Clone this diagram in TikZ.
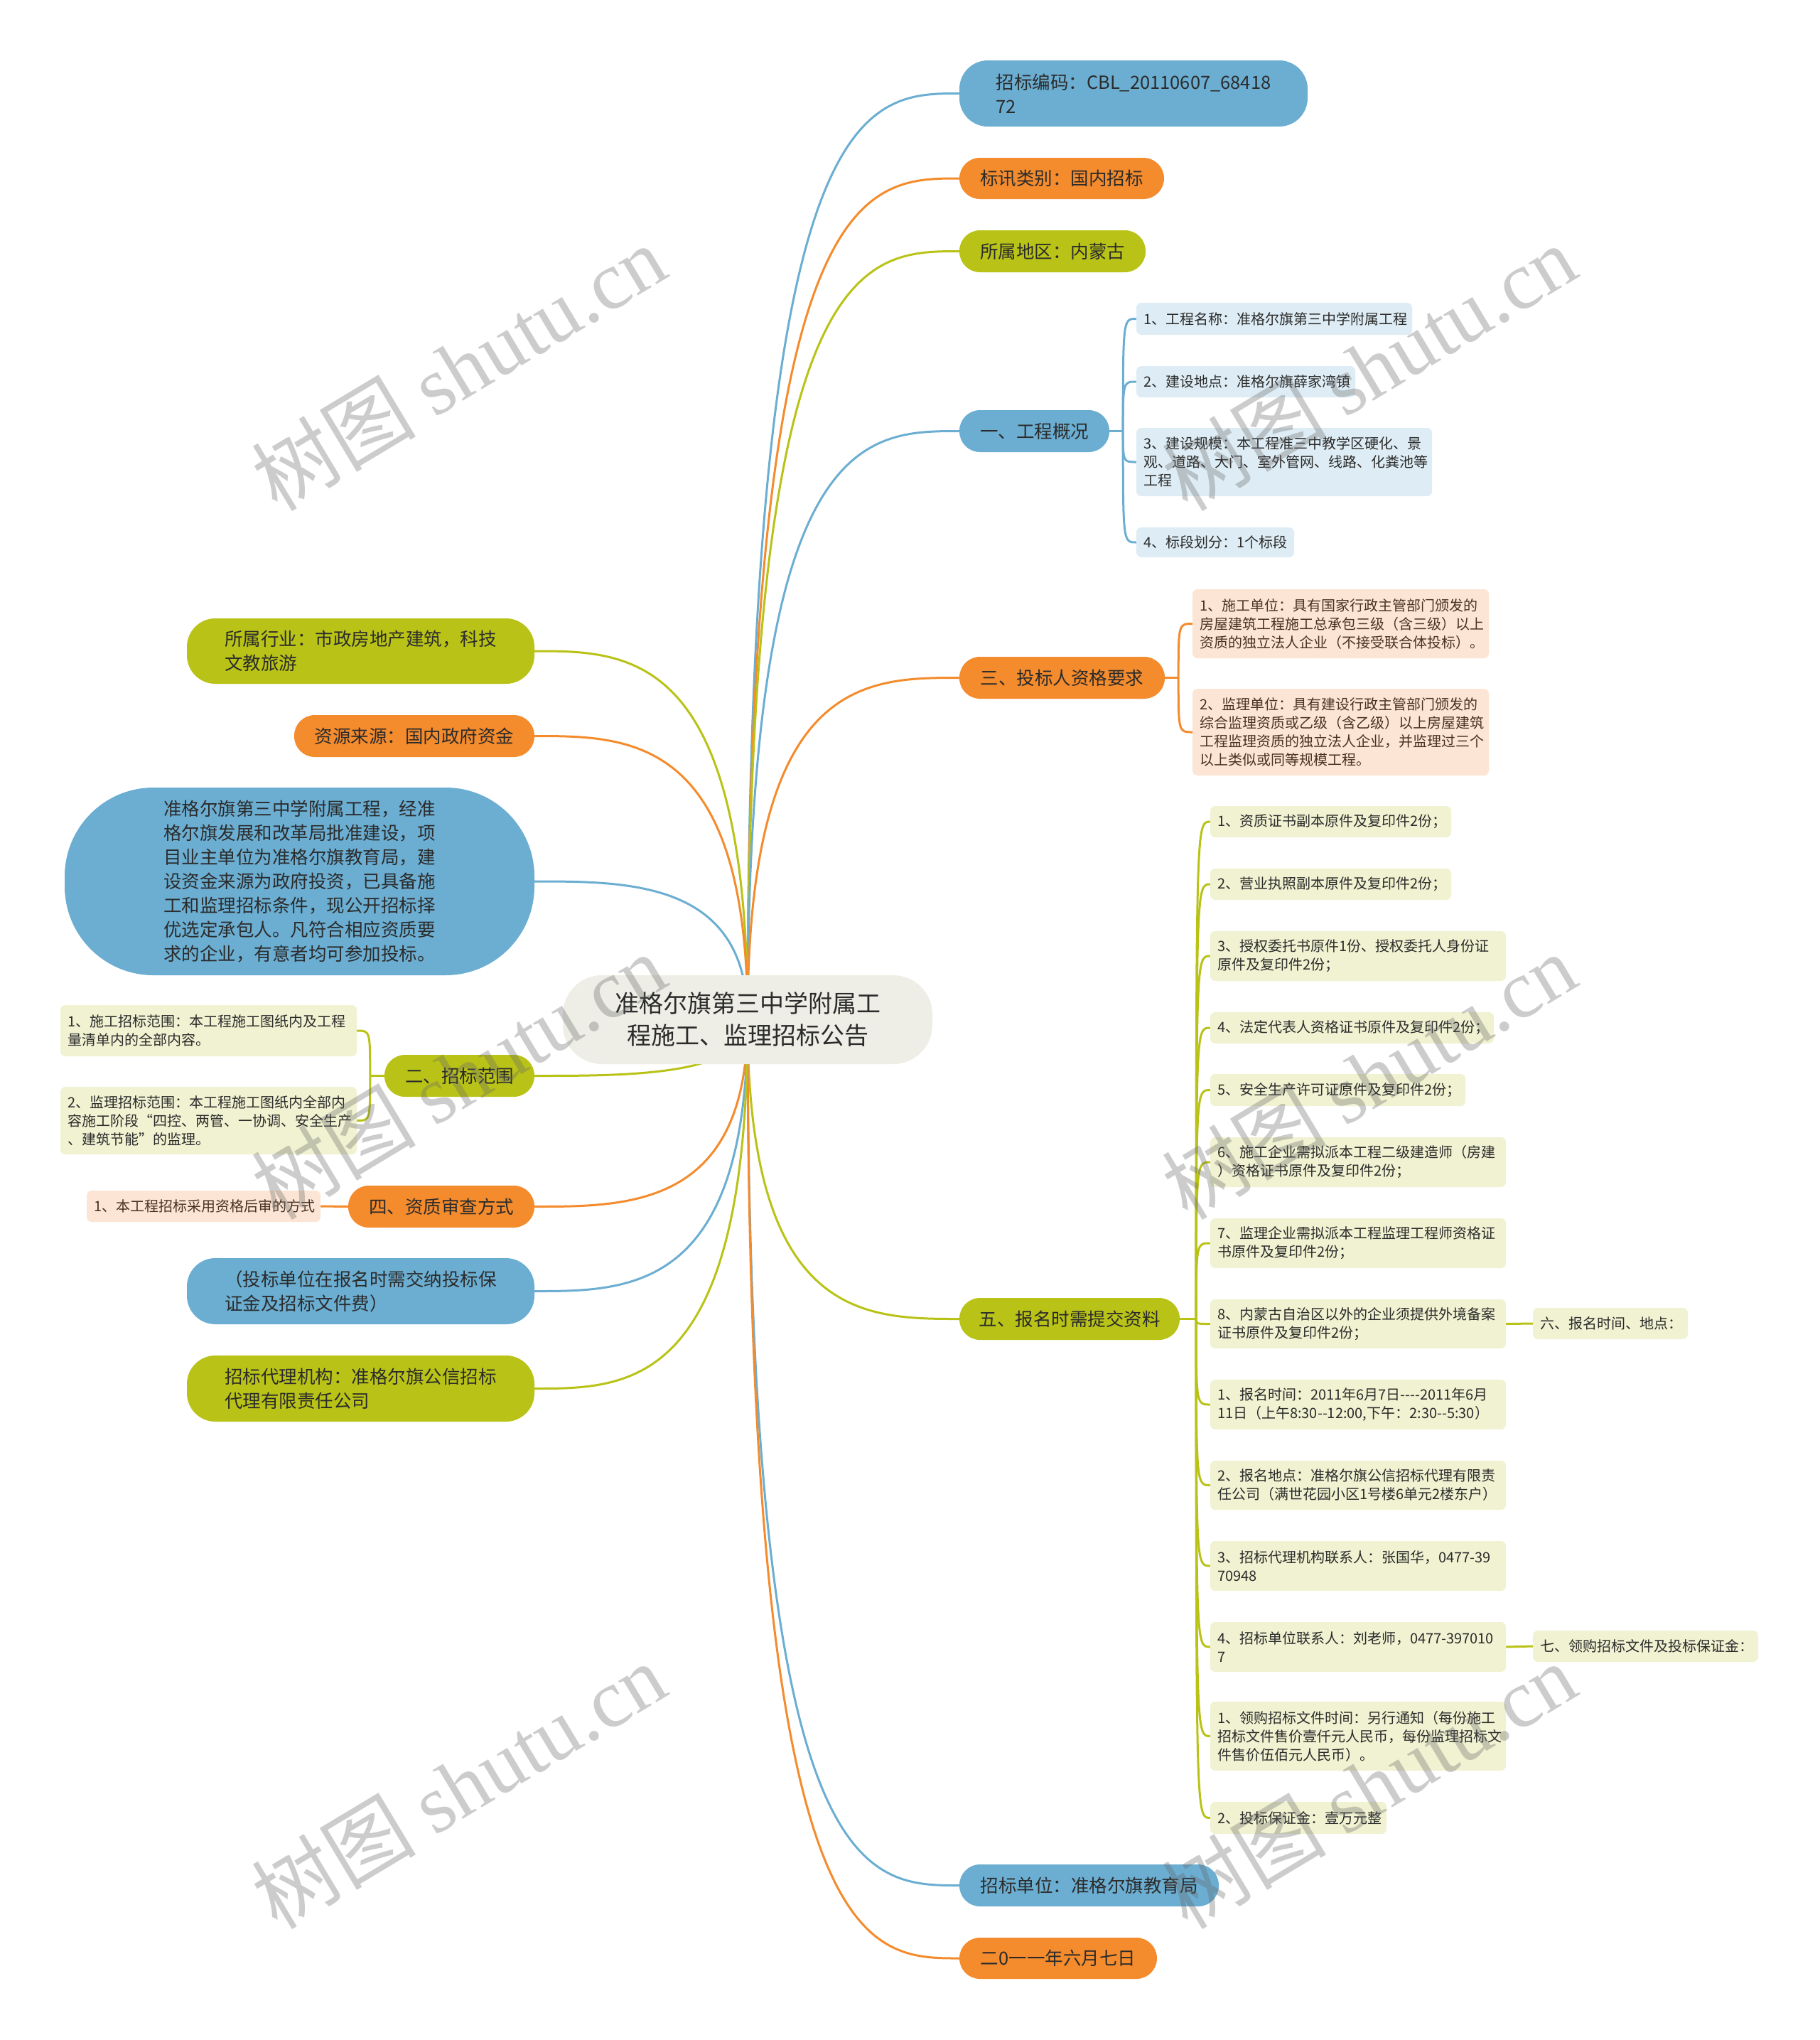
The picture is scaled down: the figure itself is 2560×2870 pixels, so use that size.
\documentclass[tikz,border=0pt]{standalone}
\usepackage{fontspec}
\setmainfont{Noto Sans CJK SC}[Ligatures=TeXOff]
\newfontfamily\wmserif{Liberation Serif}
\usetikzlibrary{calc,backgrounds}
\definecolor{mblue}{HTML}{6BAED2}
\definecolor{morange}{HTML}{F48B2D}
\definecolor{molive}{HTML}{B9C317}
\definecolor{sblue}{HTML}{DEEDF5}
\definecolor{speach}{HTML}{FCE5D4}
\definecolor{solive}{HTML}{F0F2D1}
\definecolor{cgray}{HTML}{EEEEE6}
\definecolor{tdark}{HTML}{2B2B2B}
\definecolor{tbrown}{HTML}{4A3222}
\newcommand\mmnode[7]{\node[#1, minimum width={#5-#3}, minimum height={#6-#4}] (#2) at ({(#3+#5)/2},{(#4+#6)/2}) {#7};}
\newcommand\sbnode[7]{\node[#1, minimum width={#5-#3}, minimum height={#6-#4}, text width={#5-#3-20}] (#2) at ({(#3+#5)/2},{(#4+#6)/2}) {#7};}
\tikzset{
  mainnode/.style={rounded corners=29, inner sep=0pt, align=left, text=tdark, font=\fontsize{25.5}{34}\selectfont},
  mb/.style={mainnode, fill=mblue},
  mo/.style={mainnode, fill=morange},
  ml/.style={mainnode, fill=molive},
  subnode/.style={rounded corners=7, inner xsep=10pt, inner ysep=0pt, align=left, text=tdark, font=\fontsize{20}{26}\selectfont},
  sb/.style={subnode, fill=sblue},
  sp/.style={subnode, fill=speach, text=tbrown},
  sl/.style={subnode, fill=solive},
  conn/.style={line width=3pt, draw=#1},
  mm/.style={to path={.. controls (\tikztostart |- \tikztotarget) and ($(\tikztostart |- \tikztotarget)!0.55!(\tikztotarget)$) .. (\tikztotarget)}},
  brc/.style={to path={.. controls (\tikztostart |- \tikztotarget) .. (\tikztotarget)}},
  wm/.style={rotate=31, text=black!60, text opacity=0.33, inner sep=0pt, font=\fontsize{116}{116}\selectfont}
}
\begin{document}
\begin{tikzpicture}[x=1pt, y=-1pt]
\useasboundingbox (0,0) rectangle (2560,2870);
% centre
\mmnode{mainnode, fill=cgray, rounded corners=55, align=center, font=\fontsize{34}{45}\selectfont}{ctr}{792}{1372}{1312}{1497}{准格尔旗第三中学附属工\\程施工、监理招标公告}
% right main branches
\mmnode{mb, rounded corners=40}{R1}{1350}{85}{1840}{178}{招标编码：CBL\_20110607\_68418\\72}
\mmnode{mo}{R2}{1350}{222}{1638}{280}{标讯类别：国内招标}
\mmnode{ml}{R3}{1350}{324}{1612}{383}{所属地区：内蒙古}
\mmnode{mb}{R4}{1350}{577}{1561}{636}{一、工程概况}
\mmnode{mo}{R5}{1350}{924}{1639}{983}{三、投标人资格要求}
\mmnode{ml}{R6}{1350}{1826}{1660}{1885}{五、报名时需提交资料}
\mmnode{mb}{R7}{1350}{2623}{1715}{2682}{招标单位：准格尔旗教育局}
\mmnode{mo}{R8}{1350}{2726}{1628}{2784}{二0一一年六月七日}
% left main branches
\mmnode{ml, rounded corners=40}{L1}{263}{870}{752}{962}{所属行业：市政房地产建筑，科技\\文教旅游}
\mmnode{mo}{L2}{414}{1006}{752}{1065}{资源来源：国内政府资金}
\mmnode{mb, rounded corners=125}{L3}{91}{1108}{752}{1372}{准格尔旗第三中学附属工程，经准\\格尔旗发展和改革局批准建设，项\\目业主单位为准格尔旗教育局，建\\设资金来源为政府投资，已具备施\\工和监理招标条件，现公开招标择\\优选定承包人。凡符合相应资质要\\求的企业，有意者均可参加投标。}
\mmnode{ml}{L4}{541}{1484}{752}{1543}{二、招标范围}
\mmnode{mo}{L5}{490}{1668}{752}{1727}{四、资质审查方式}
\mmnode{mb, rounded corners=40}{L6}{263}{1770}{752}{1863}{（投标单位在报名时需交纳投标保\\证金及招标文件费）}
\mmnode{ml, rounded corners=40}{L7}{263}{1907}{752}{2000}{招标代理机构：准格尔旗公信招标\\代理有限责任公司}
% sub nodes of 一
\sbnode{sb}{A1}{1599}{426}{1987}{471}{1、工程名称：准格尔旗第三中学附属工程}
\sbnode{sb}{A2}{1599}{515}{1907}{559}{2、建设地点：准格尔旗薛家湾镇}
\sbnode{sb}{A3}{1599}{602}{2015}{698}{3、建设规模：本工程准三中教学区硬化、景\\观、道路、大门、室外管网、线路、化粪池等\\工程}
\sbnode{sb}{A4}{1599}{742}{1821}{784}{4、标段划分：1个标段}
% sub nodes of 三
\sbnode{sp}{B1}{1678}{829}{2095}{926}{1、施工单位：具有国家行政主管部门颁发的\\房屋建筑工程施工总承包三级（含三级）以上\\资质的独立法人企业（不接受联合体投标）。}
\sbnode{sp}{B2}{1678}{969}{2095}{1091}{2、监理单位：具有建设行政主管部门颁发的\\综合监理资质或乙级（含乙级）以上房屋建筑\\工程监理资质的独立法人企业，并监理过三个\\以上类似或同等规模工程。}
% sub nodes of 五
\sbnode{sl}{C1}{1703}{1134}{2042}{1178}{1、资质证书副本原件及复印件2份；}
\sbnode{sl}{C2}{1703}{1222}{2042}{1266}{2、营业执照副本原件及复印件2份；}
\sbnode{sl}{C3}{1703}{1310}{2119}{1380}{3、授权委托书原件1份、授权委托人身份证\\原件及复印件2份；}
\sbnode{sl}{C4}{1703}{1424}{2102}{1468}{4、法定代表人资格证书原件及复印件2份；}
\sbnode{sl}{C5}{1703}{1511}{2062}{1556}{5、安全生产许可证原件及复印件2份；}
\sbnode{sl}{C6}{1703}{1600}{2119}{1670}{6、施工企业需拟派本工程二级建造师（房建\\）资格证书原件及复印件2份；}
\sbnode{sl}{C7}{1703}{1714}{2119}{1784}{7、监理企业需拟派本工程监理工程师资格证\\书原件及复印件2份；}
\sbnode{sl}{C8}{1703}{1828}{2119}{1897}{8、内蒙古自治区以外的企业须提供外境备案\\证书原件及复印件2份；}
\sbnode{sl}{C9}{1703}{1941}{2119}{2011}{1、报名时间：2011年6月7日----2011年6月\\11日（上午8:30--12:00,下午：2:30--5:30）}
\sbnode{sl}{C10}{1703}{2055}{2119}{2124}{2、报名地点：准格尔旗公信招标代理有限责\\任公司（满世花园小区1号楼6单元2楼东户）}
\sbnode{sl}{C11}{1703}{2168}{2119}{2238}{3、招标代理机构联系人：张国华，0477-39\\70948}
\sbnode{sl}{C12}{1703}{2282}{2119}{2352}{4、招标单位联系人：刘老师，0477-397010\\7}
\sbnode{sl}{C13}{1703}{2394}{2119}{2491}{1、领购招标文件时间：另行通知（每份施工\\招标文件售价壹仟元人民币，每份监理招标文\\件售价伍佰元人民币）。}
\sbnode{sl}{C14}{1703}{2535}{1951}{2580}{2、投标保证金：壹万元整}
\sbnode{sl}{D1}{2157}{1840}{2375}{1884}{六、报名时间、地点：}
\sbnode{sl}{D2}{2157}{2294}{2474}{2338}{七、领购招标文件及投标保证金：}
% sub nodes of 二 and 四
\sbnode{sl}{E1}{85}{1414}{502}{1486}{1、施工招标范围：本工程施工图纸内及工程\\量清单内的全部内容。}
\sbnode{sl}{E2}{85}{1529}{502}{1624}{2、监理招标范围：本工程施工图纸内全部内\\容施工阶段“四控、两管、一协调、安全生产\\、建筑节能”的监理。}
\sbnode{sp}{F1}{122}{1675}{451}{1719}{1、本工程招标采用资格后审的方式}
% connectors
\begin{scope}[on background layer]
\fill[white] (0,0) rectangle (2560,2870);
\draw[conn=mblue] (ctr.center) to[mm] (R1.west);
\draw[conn=morange] (ctr.center) to[mm] (R2.west);
\draw[conn=molive] (ctr.center) to[mm] (R3.west);
\draw[conn=mblue] (ctr.center) to[mm] (R4.west);
\draw[conn=morange] (ctr.center) to[mm] (R5.west);
\draw[conn=molive] (ctr.center) to[mm] (R6.west);
\draw[conn=mblue] (ctr.center) to[mm] (R7.west);
\draw[conn=morange] (ctr.center) to[mm] (R8.west);
\draw[conn=molive] (ctr.center) to[mm] (L1.east);
\draw[conn=morange] (ctr.center) to[mm] (L2.east);
\draw[conn=mblue] (ctr.center) to[mm] (L3.east);
\draw[conn=molive] (ctr.center) to[mm] (L4.east);
\draw[conn=morange] (ctr.center) to[mm] (L5.east);
\draw[conn=mblue] (ctr.center) to[mm] (L6.east);
\draw[conn=molive] (ctr.center) to[mm] (L7.east);
% brackets
\coordinate (R4s) at ($(R4.east)+(19,0)$);
\draw[conn=mblue] (R4.east) -- (R4s);
\foreach \c in {A1,A2,A3,A4} \draw[conn=mblue] (R4s) to[brc] (\c.west);
\coordinate (R5s) at ($(R5.east)+(19,0)$);
\draw[conn=morange] (R5.east) -- (R5s);
\foreach \c in {B1,B2} \draw[conn=morange] (R5s) to[brc] (\c.west);
\coordinate (R6s) at ($(R6.east)+(23,0)$);
\draw[conn=molive] (R6.east) -- (R6s);
\foreach \c in {C1,C2,C3,C4,C5,C6,C7,C8,C9,C10,C11,C12,C13,C14} \draw[conn=molive] (R6s) to[brc] (\c.west);
\coordinate (L4s) at ($(L4.west)+(-20,0)$);
\draw[conn=molive] (L4.west) -- (L4s);
\foreach \c in {E1,E2} \draw[conn=molive] (L4s) to[brc] (\c.east);
\draw[conn=morange] (L5.west) -- (F1.east);
\draw[conn=molive] (C8.east) -- (D1.west);
\draw[conn=molive] (C12.east) -- (D2.west);
\end{scope}
% watermarks
\node[wm] (w1) at (645,517) {树图 {\wmserif shutu.cn}};
\node[wm] (w2) at (1926,517) {树图 {\wmserif shutu.cn}};
\node[wm] (w3) at (645,1514) {树图 {\wmserif shutu.cn}};
\node[wm] (w4) at (1926,1514) {树图 {\wmserif shutu.cn}};
\node[wm] (w5) at (645,2512) {树图 {\wmserif shutu.cn}};
\node[wm] (w6) at (1926,2512) {树图 {\wmserif shutu.cn}};
\end{tikzpicture}
\end{document}
